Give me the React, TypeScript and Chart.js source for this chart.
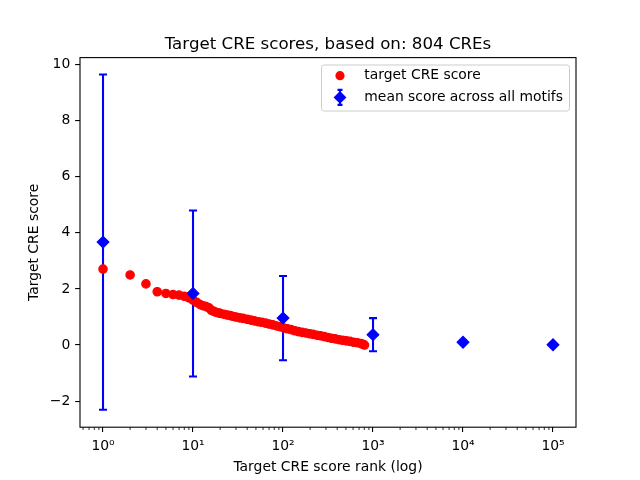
import React, { useEffect, useRef } from 'react';
import { Chart, registerables } from 'chart.js';

Chart.register(...registerables);

const chartTitle = 'Target CRE scores, based on: 804 CREs';
const xAxisTitle = 'Target CRE score rank (log)';
const yAxisTitle = 'Target CRE score';
const legendLabels = ['target CRE score', 'mean score across all motifs'];

// target CRE scores (rank, score)
const creRanks = [
  1, 2, 3, 4, 5, 6, 7, 8, 9, 10, 11, 12, 13, 14, 15, 16, 17, 18, 19, 20,
  22, 24, 26, 28, 30, 33, 36, 40, 44, 48, 53, 58, 64, 70, 77, 85, 93, 102,
  112, 123, 135, 148, 163, 179, 197, 216, 238, 261, 287, 315, 346, 380, 418,
  459, 504, 554, 609, 669, 735, 770, 804,
];
const creScores = [
  2.71, 2.5, 2.18, 1.9, 1.84, 1.8, 1.78, 1.74, 1.68, 1.6, 1.52, 1.44, 1.4,
  1.37, 1.33, 1.24, 1.2, 1.17, 1.15, 1.13, 1.1, 1.07, 1.05, 1.02, 1.0, 0.97,
  0.95, 0.92, 0.89, 0.86, 0.83, 0.81, 0.78, 0.75, 0.72, 0.68, 0.65, 0.61,
  0.58, 0.55, 0.51, 0.48, 0.45, 0.43, 0.4, 0.38, 0.35, 0.33, 0.3, 0.27, 0.24,
  0.22, 0.19, 0.17, 0.15, 0.13, 0.1, 0.08, 0.05, 0.03, 0.0,
];

// mean score across all motifs with error bars
const meanRanks = [1, 10, 100, 1000, 10000, 100000];
const meanScores = [3.67, 1.84, 0.96, 0.37, 0.1, 0.01];
const meanErrors = [5.98, 2.96, 1.5, 0.59, 0.06, 0.03];

const xMajorTicks = [1, 10, 100, 1000, 10000, 100000];
const xTickLabels = ['10⁰', '10¹', '10²', '10³', '10⁴', '10⁵'];
const xMinorMultipliers = [2, 3, 4, 5, 6, 7, 8, 9];
const xDecades = [0.1, 1, 10, 100, 1000, 10000, 100000];
const yTicks = [-2, 0, 2, 4, 6, 8, 10];
const yTickLabels = ['−2', '0', '2', '4', '6', '8', '10'];
const xMin = 0.555;
const xMax = 180000;
const yMin = -2.93;
const yMax = 10.25;

const RED = '#ff0000';
const BLUE = '#0000ff';
const FONT = '"DejaVu Sans", Verdana, sans-serif';

const decorPlugin = {
  id: 'decor',
  beforeDatasetsDraw(chart: any) {
    const { ctx, scales } = chart;
    const x = scales.x;
    const y = scales.y;
    ctx.save();
    ctx.strokeStyle = BLUE;
    ctx.lineWidth = 2.08;
    const cap = 4;
    meanRanks.forEach((r, i) => {
      const px = x.getPixelForValue(r);
      const top = y.getPixelForValue(meanScores[i] + meanErrors[i]);
      const bot = y.getPixelForValue(meanScores[i] - meanErrors[i]);
      ctx.beginPath();
      ctx.moveTo(px, top);
      ctx.lineTo(px, bot);
      ctx.moveTo(px - cap, top);
      ctx.lineTo(px + cap, top);
      ctx.moveTo(px - cap, bot);
      ctx.lineTo(px + cap, bot);
      ctx.stroke();
    });
    ctx.restore();
  },
  afterDraw(chart: any) {
    const { ctx, chartArea, scales } = chart;
    const x = scales.x;
    ctx.save();
    // frame
    ctx.strokeStyle = '#000';
    ctx.lineWidth = 1.1;
    ctx.strokeRect(chartArea.left, chartArea.top, chartArea.right - chartArea.left, chartArea.bottom - chartArea.top);
    // minor ticks on log axis
    ctx.lineWidth = 0.83;
    ctx.beginPath();
    xDecades.forEach((d) => {
      xMinorMultipliers.forEach((m) => {
        const v = d * m;
        if (v < xMin || v > xMax) return;
        const px = x.getPixelForValue(v);
        ctx.moveTo(px, chartArea.bottom);
        ctx.lineTo(px, chartArea.bottom + 2.78);
      });
    });
    ctx.stroke();
    // title
    ctx.fillStyle = '#000';
    ctx.font = `16.67px ${FONT}`;
    ctx.textAlign = 'center';
    ctx.textBaseline = 'alphabetic';
    ctx.fillText(chartTitle, (chartArea.left + chartArea.right) / 2, chartArea.top - 8.5);
    // legend
    const lx = 321.5, ly = 65, lw = 248, lh = 46;
    ctx.beginPath();
    ctx.roundRect(lx, ly, lw, lh, 2.8);
    ctx.fillStyle = 'rgba(255,255,255,0.8)';
    ctx.fill();
    ctx.strokeStyle = '#cccccc';
    ctx.lineWidth = 1;
    ctx.stroke();
    const mx = 340;
    const r1 = 75.7;
    const r2 = 97.4;
    // red circle
    ctx.beginPath();
    ctx.arc(mx, r1, 4.6, 0, Math.PI * 2);
    ctx.fillStyle = RED;
    ctx.fill();
    // blue errorbar handle
    ctx.strokeStyle = BLUE;
    ctx.lineWidth = 2.08;
    ctx.beginPath();
    ctx.moveTo(mx, r2 - 7.5);
    ctx.lineTo(mx, r2 + 7.5);
    ctx.moveTo(mx - 2.5, r2 - 7.5);
    ctx.lineTo(mx + 2.5, r2 - 7.5);
    ctx.moveTo(mx - 2.5, r2 + 7.5);
    ctx.lineTo(mx + 2.5, r2 + 7.5);
    ctx.stroke();
    ctx.beginPath();
    ctx.moveTo(mx - 6.4, r2);
    ctx.lineTo(mx, r2 - 6.4);
    ctx.lineTo(mx + 6.4, r2);
    ctx.lineTo(mx, r2 + 6.4);
    ctx.closePath();
    ctx.fillStyle = BLUE;
    ctx.fill();
    ctx.fillStyle = '#000';
    ctx.font = `13.9px ${FONT}`;
    ctx.textAlign = 'left';
    ctx.textBaseline = 'middle';
    ctx.fillText(legendLabels[0], 364.3, r1);
    ctx.fillText(legendLabels[1], 364.3, r2);
    ctx.restore();
  },
};

export default function App() {
  const canvasRef = useRef<HTMLCanvasElement | null>(null);

  useEffect(() => {
    if (!canvasRef.current) return;
    const chart = new Chart(canvasRef.current, {
      type: 'scatter',
      data: {
        datasets: [
          {
            label: legendLabels[1],
            data: meanRanks.map((r, i) => ({ x: r, y: meanScores[i] })),
            backgroundColor: BLUE,
            borderColor: BLUE,
            pointStyle: 'rectRot',
            pointRadius: 5.9,
            pointBorderWidth: 1.1,
            order: 0,
          },
          {
            label: legendLabels[0],
            data: creRanks.map((r, i) => ({ x: r, y: creScores[i] })),
            backgroundColor: RED,
            borderColor: RED,
            pointStyle: 'circle',
            pointRadius: 4.2,
            pointBorderWidth: 1.2,
            order: 1,
          },
        ],
      },
      options: {
        animation: false,
        responsive: true,
        maintainAspectRatio: false,
        events: [],
        devicePixelRatio: 1,
        layout: { padding: { top: 57.6, right: 64, left: 0, bottom: 0 } },
        plugins: {
          legend: { display: false },
          title: { display: false },
          tooltip: { enabled: false },
        },
        scales: {
          x: {
            type: 'logarithmic',
            min: xMin,
            max: xMax,
            border: { display: false },
            grid: {
              display: true,
              drawOnChartArea: false,
              drawTicks: true,
              tickLength: 4.86,
              color: '#000',
              lineWidth: 1.1,
            },
            afterBuildTicks: (scale: any) => {
              scale.ticks = xMajorTicks.map((v) => ({ value: v, major: true }));
            },
            afterFit: (scale: any) => {
              scale.height = 52.8;
            },
            ticks: {
              autoSkip: false,
              maxRotation: 0,
              padding: 6,
              color: '#000',
              font: { family: FONT, size: 13.9 },
              callback: (value: any) => {
                const idx = xMajorTicks.indexOf(Number(value));
                return idx >= 0 ? xTickLabels[idx] : '';
              },
            },
            title: {
              display: true,
              text: xAxisTitle,
              color: '#000',
              font: { family: FONT, size: 13.9 },
              padding: { top: 0, bottom: 4.7 },
            },
          },
          y: {
            type: 'linear',
            min: yMin,
            max: yMax,
            border: { display: false },
            grid: {
              display: true,
              drawOnChartArea: false,
              drawTicks: true,
              tickLength: 4.86,
              color: '#000',
              lineWidth: 1.1,
            },
            afterBuildTicks: (scale: any) => {
              scale.ticks = yTicks.map((v) => ({ value: v }));
            },
            afterFit: (scale: any) => {
              scale.width = 80;
            },
            ticks: {
              autoSkip: false,
              padding: 4.86,
              color: '#000',
              font: { family: FONT, size: 13.9 },
              callback: (value: any) => {
                const idx = yTicks.indexOf(Number(value));
                return idx >= 0 ? yTickLabels[idx] : '';
              },
            },
            title: {
              display: true,
              text: yAxisTitle,
              color: '#000',
              font: { family: FONT, size: 13.9 },
              padding: { top: 26, bottom: 0 },
            },
          },
        },
      },
      plugins: [decorPlugin],
    });
    return () => chart.destroy();
  }, []);

  return (
    <div style={{ position: 'absolute', left: 0, top: 0, width: 640, height: 480, background: '#fff' }}>
      <canvas ref={canvasRef} />
    </div>
  );
}
